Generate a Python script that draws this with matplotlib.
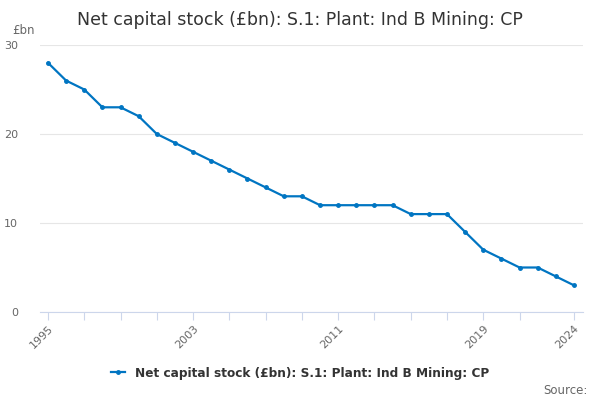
import matplotlib

matplotlib.use("Agg")
import matplotlib.pyplot as plt

years = list(range(1995, 2025))
values = [28, 26, 25, 23, 23, 22, 20, 19, 18, 17,
          16, 15, 14, 13, 13, 12, 12, 12, 12, 12,
          11, 11, 11, 9, 7, 6, 5, 5, 4, 3]
tick_years = list(range(1995, 2022, 2)) + [2024]
label_years = [1995, 2003, 2011, 2019, 2024]
series_name = "Net capital stock (£bn): S.1: Plant: Ind B Mining: CP"

plt.rcParams["font.family"] = ["DejaVu Sans"]

fig = plt.figure(figsize=(6, 4), dpi=100)
ax = fig.add_axes([40 / 600, 88 / 400, 543 / 600, 267 / 400])

ax.plot(years, values, color="#0075c2", linewidth=1.6, marker="o",
        markersize=2.5, label=series_name)

ax.set_xlim(1994.56, 2024.5)
ax.set_ylim(0, 30)
ax.set_yticks([0, 10, 20, 30])
ax.tick_params(axis="y", length=0, labelsize=8, labelcolor="#666666", pad=16)
ax.grid(axis="y", color="#e6e6e6", linewidth=0.8)
ax.set_axisbelow(True)

ax.set_xticks(tick_years)
ax.set_xticklabels([str(y) if y in label_years else "" for y in tick_years],
                   rotation=45, ha="right", rotation_mode="anchor")
ax.tick_params(axis="x", length=6, color="#ccd6eb", labelsize=8,
               labelcolor="#666666", pad=2)

for side in ["top", "right", "left"]:
    ax.spines[side].set_visible(False)
ax.spines["bottom"].set_color("#ccd6eb")

fig.text(0.5, 0.95, "Net capital stock (£bn): S.1: Plant: Ind B Mining: CP",
         ha="center", va="center", fontsize=12.5, color="#333333")
fig.text(12 / 600, 1 - 31 / 400, "£bn", ha="left", va="center",
         fontsize=8.5, color="#666666")
fig.text(588 / 600, 1 - 390 / 400, "Source:", ha="right", va="center",
         fontsize=8.5, color="#666666")

fig.legend(loc="center", bbox_to_anchor=(0.5, 1 - 373 / 400), frameon=False,
           prop={"weight": "bold", "size": 8.7}, handlelength=1.2,
           labelcolor="#333333")

fig.savefig("out.png", dpi=100)
